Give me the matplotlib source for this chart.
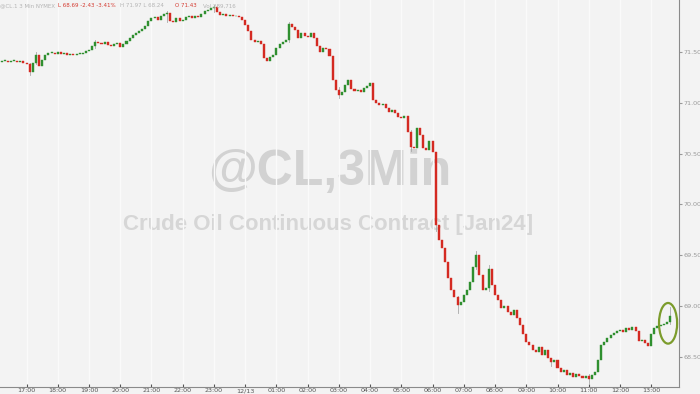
import matplotlib.pyplot as plt
from matplotlib.patches import Ellipse

# 6-minute candles from 16:12 (bar 0) to 13:36 (bar 214)
first_open = 71.40
closes = [
    71.41, 71.41, 71.40, 71.41, 71.41, 71.40, 71.41, 71.39, 71.38, 71.30,
    71.39, 71.47, 71.36, 71.42, 71.47, 71.49, 71.49, 71.48, 71.50, 71.48,
    71.49, 71.47, 71.48, 71.47, 71.48, 71.48, 71.49, 71.51, 71.52, 71.56,
    71.60, 71.59, 71.58, 71.60, 71.57, 71.56, 71.58, 71.59, 71.55, 71.58,
    71.61, 71.64, 71.67, 71.69, 71.71, 71.73, 71.76, 71.81, 71.83, 71.84,
    71.82, 71.85, 71.87, 71.88, 71.81, 71.80, 71.83, 71.81, 71.82, 71.84,
    71.85, 71.83, 71.85, 71.84, 71.87, 71.90, 71.91, 71.93, 71.94, 71.89,
    71.86, 71.87, 71.85, 71.86, 71.85, 71.85, 71.84, 71.82, 71.77, 71.71,
    71.62, 71.60, 71.61, 71.58, 71.44, 71.41, 71.45, 71.47, 71.54, 71.58,
    71.60, 71.62, 71.78, 71.75, 71.72, 71.64, 71.69, 71.66, 71.65, 71.69,
    71.64, 71.56, 71.50, 71.54, 71.53, 71.46, 71.22, 71.13, 71.08, 71.11,
    71.18, 71.22, 71.14, 71.12, 71.13, 71.11, 71.15, 71.17, 71.20, 71.03,
    71.00, 70.98, 70.99, 70.95, 70.91, 70.93, 70.90, 70.86, 70.85, 70.87,
    70.71, 70.57, 70.56, 70.75, 70.68, 70.56, 70.54, 70.62, 70.52, 69.80,
    69.65, 69.57, 69.43, 69.28, 69.16, 69.09, 69.01, 69.04, 69.11, 69.16,
    69.24, 69.38, 69.50, 69.31, 69.16, 69.18, 69.36, 69.21, 69.11, 69.06,
    68.98, 69.00, 68.94, 68.91, 68.96, 68.88, 68.81, 68.72, 68.65, 68.62,
    68.57, 68.55, 68.60, 68.52, 68.57, 68.49, 68.45, 68.47, 68.39, 68.35,
    68.37, 68.32, 68.34, 68.30, 68.33, 68.31, 68.29, 68.31, 68.28, 68.32,
    68.35, 68.47, 68.62, 68.65, 68.69, 68.71, 68.73, 68.75, 68.76, 68.74,
    68.78, 68.76, 68.79, 68.75, 68.66, 68.67, 68.64, 68.61, 68.72, 68.78,
    68.80, 68.81, 68.82, 68.84, 68.90,
]
# notable wicks: bar -> (high, low)
wicks = {
    9: (71.39, 71.27), 11: (71.50, 71.38), 30: (71.62, 71.54),
    53: (71.90, 71.80), 68: (71.96, 71.89), 92: (71.80, 71.60),
    108: (71.16, 71.05), 131: (70.73, 70.53), 139: (70.52, 69.74),
    146: (69.10, 68.93), 152: (69.54, 69.36), 156: (69.40, 69.15),
    176: (68.49, 68.41), 188: (68.33, 68.24), 214: (68.99, 68.82),
}
tick_labels = ['17:00', '18:00', '19:00', '20:00', '21:00', '22:00', '23:00',
               '12/13', '01:00', '02:00', '03:00', '04:00', '05:00', '06:00',
               '07:00', '08:00', '09:00', '10:00', '11:00', '12:00', '13:00']
tick_bars = [8 + 10 * k for k in range(len(tick_labels))]
price_ticks = [68.5, 69.0, 69.5, 70.0, 70.5, 71.0, 71.5]

bg = '#f3f3f3'
up_col = '#2f8f2f'
dn_col = '#d42a22'

fig = plt.figure(figsize=(7, 3.94), dpi=100, facecolor=bg)
ax = fig.add_axes([0, 0.018, 0.97, 0.982])
ax.set_facecolor(bg)

opens = [first_open] + closes[:-1]
for i, (o, c) in enumerate(zip(opens, closes)):
    col = up_col if c >= o else dn_col
    if i in wicks:
        hi, lo = wicks[i]
        ax.plot([i, i], [lo, hi], color='#a8a8a8', lw=0.6, zorder=2)
    h = abs(c - o)
    if h < 0.008:
        h = 0.008
    ax.bar(i, h, bottom=min(o, c), width=0.65, color=col, edgecolor=col,
           linewidth=0.3, zorder=3)

# highlight the last bars
ax.add_patch(Ellipse((213.4, 68.83), 5.8, 0.40, fill=False,
                     edgecolor='#7c9c2c', lw=1.6, zorder=4))

# watermark
ax.text(0.485, 0.555, '@CL,3Min', transform=ax.transAxes, ha='center',
        va='center', fontsize=36, fontweight='bold', color='#d2d2d2',
        family='Liberation Sans', zorder=0.5)
ax.text(0.483, 0.42, 'Crude Oil Continuous Contract [Jan24]',
        transform=ax.transAxes, ha='center', va='center', fontsize=16,
        fontweight='bold', color='#d6d6d6', family='Liberation Sans',
        zorder=0.5)

# header line
hdr = [('@CL.1 3 Min NYMEX', '#b4b4b4', 0.0),
       ('L 68.69 -2.43 -3.41%', '#d43a30', 0.083),
       ('H 71.97 L 68.24', '#b4b4b4', 0.172),
       ('O 71.43', '#d43a30', 0.25),
       ('Vol 289,716', '#b4b4b4', 0.29)]
for txt, col, xpos in hdr:
    fig.text(xpos, 0.985, txt, color=col, fontsize=4.0, va='center', ha='left')

ax.set_xlim(-0.5, 216.9)
ax.set_ylim(68.204, 72.012)
ax.set_xticks(tick_bars)
ax.set_xticklabels(tick_labels)
ax.set_yticks(price_ticks)
ax.set_yticklabels(['%.2f' % p for p in price_ticks])
ax.yaxis.tick_right()
ax.tick_params(axis='x', direction='in', length=2, pad=1, labelsize=4.6,
               colors='#555555')
ax.tick_params(axis='y', direction='out', length=2, pad=1, labelsize=4.6,
               colors='#999999')
ax.grid(axis='x', color='#fafafa', lw=1.0, zorder=0)
for side in ['top', 'left']:
    ax.spines[side].set_visible(False)
ax.spines['right'].set_color('#8a8a8a')
ax.spines['bottom'].set_color('#8a8a8a')

fig.savefig('out.png', dpi=100, facecolor=bg)
